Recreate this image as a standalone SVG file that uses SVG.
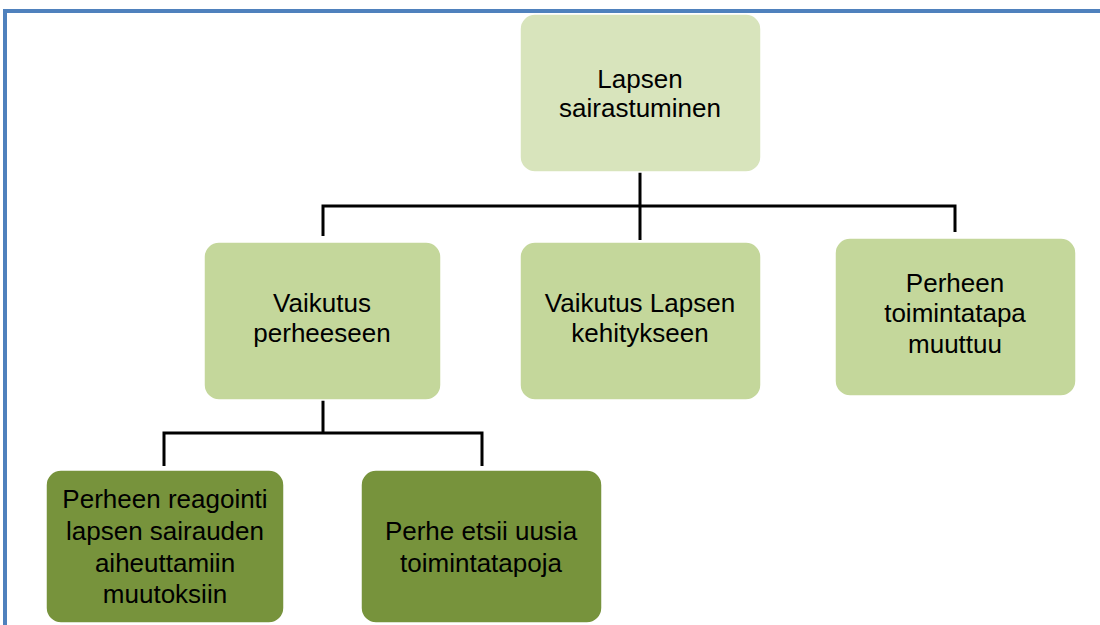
<svg xmlns="http://www.w3.org/2000/svg" width="1100" height="625" viewBox="0 0 1100 625">
<style>
.frame{stroke:#4f81bd;stroke-width:4;fill:none}
.conn{stroke:#000;stroke-width:3;fill:none}
.lvl0{fill:#d8e4bc;stroke:#fff;stroke-width:1.5}
.lvl1{fill:#c4d79b;stroke:#fff;stroke-width:1.5}
.lvl2{fill:#77933c;stroke:#fff;stroke-width:1.5}
text{font-family:"Liberation Sans",Arial,sans-serif;font-size:26px;fill:#000;text-anchor:middle}
</style>
<rect width="1100" height="625" fill="#fff"/>
<path class="frame" d="M5,625 V11 H1100"/>
<g id="connectors">
<path class="conn" d="M640,172 V206 M323,236 V206 H955 V232 M640,206 V240"/>
<path class="conn" d="M323,400 V433 M164,466 V433 H482 V466"/>
</g>
<g id="n-lapsen-sairastuminen">
<rect class="lvl0" x="520" y="14" width="241" height="158" rx="15"/>
<text x="640" y="88">Lapsen</text>
<text x="640" y="117">sairastuminen</text>
</g>
<g id="n-vaikutus-perheeseen">
<rect class="lvl1" x="204" y="242" width="237" height="158" rx="15"/>
<text x="322" y="312">Vaikutus</text>
<text x="322" y="342">perheeseen</text>
</g>
<g id="n-vaikutus-kehitykseen">
<rect class="lvl1" x="520" y="242" width="241" height="158" rx="15"/>
<text x="640" y="312">Vaikutus Lapsen</text>
<text x="640" y="342">kehitykseen</text>
</g>
<g id="n-toimintatapa-muuttuu">
<rect class="lvl1" x="835" y="238" width="241" height="158" rx="15"/>
<text x="955" y="292">Perheen</text>
<text x="955" y="322">toimintatapa</text>
<text x="955" y="353">muuttuu</text>
</g>
<g id="n-perheen-reagointi">
<rect class="lvl2" x="46" y="470" width="238" height="153" rx="15"/>
<text x="165" y="508">Perheen reagointi</text>
<text x="165" y="540">lapsen sairauden</text>
<text x="165" y="572">aiheuttamiin</text>
<text x="165" y="603">muutoksiin</text>
</g>
<g id="n-perhe-etsii">
<rect class="lvl2" x="361" y="470" width="241" height="153" rx="15"/>
<text x="481" y="540">Perhe etsii uusia</text>
<text x="481" y="572">toimintatapoja</text>
</g>
</svg>
